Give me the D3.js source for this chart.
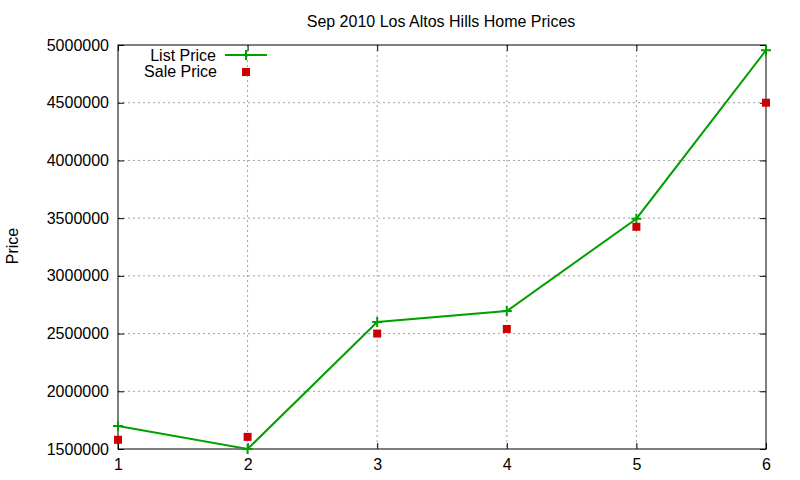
<!DOCTYPE html>
<html>
<head>
<meta charset="utf-8">
<script src="https://cdn.jsdelivr.net/npm/d3@7"></script>
<style>
  body { margin: 0; background: #fff; }
  svg text { font-family: "Liberation Sans", Arial, sans-serif; fill: #000; }
</style>
</head>
<body>
<div id="chart"></div>
<script>
const homes = [1, 2, 3, 4, 5, 6];
const listPrice = [1700000, 1500000, 2600000, 2695000, 3495000, 4955000];
const salePrice = [1580000, 1605000, 2500000, 2540000, 3425000, 4500000];
const yTicks = [1500000, 2000000, 2500000, 3000000, 3500000, 4000000, 4500000, 5000000];

const width = 800, height = 480;
const plotL = 118, plotR = 766, plotT = 45, plotB = 449;

const svg = d3.select("#chart").append("svg")
    .attr("width", width)
    .attr("height", height);

const x = d3.scaleLinear().domain([1, 6]).range([plotL, plotR]);
const y = d3.scaleLinear().domain([1500000, 5000000]).range([plotB, plotT]);

// grid
svg.append("g")
    .selectAll("line")
    .data(yTicks.slice(1, -1))
    .enter().append("line")
    .attr("x1", plotL).attr("x2", plotR)
    .attr("y1", d => y(d)).attr("y2", d => y(d))
    .attr("stroke", "#a0a0a0").attr("stroke-dasharray", "2,3");
svg.append("g")
    .selectAll("line")
    .data(homes.slice(1, -1))
    .enter().append("line")
    .attr("x1", d => x(d)).attr("x2", d => x(d))
    .attr("y1", plotT).attr("y2", plotB)
    .attr("stroke", "#a0a0a0").attr("stroke-dasharray", "2,3");

// axes (ticks inward, mirrored)
const fontSize = "16px";
svg.append("g")
    .attr("transform", `translate(${plotL},0)`)
    .call(d3.axisLeft(y).tickValues(yTicks).tickSize(-6).tickPadding(9).tickFormat(d3.format("d")))
    .call(g => g.select(".domain").remove())
    .call(g => g.selectAll("text").style("font-size", fontSize).style("font-family", "Liberation Sans, Arial, sans-serif"));
svg.append("g")
    .attr("transform", `translate(${plotR},0)`)
    .call(d3.axisRight(y).tickValues(yTicks).tickSize(-6).tickFormat(""))
    .call(g => g.select(".domain").remove());
svg.append("g")
    .attr("transform", `translate(0,${plotB})`)
    .call(d3.axisBottom(x).tickValues(homes).tickSize(-6).tickPadding(10).tickFormat(d3.format("d")))
    .call(g => g.select(".domain").remove())
    .call(g => g.selectAll("text").style("font-size", fontSize).style("font-family", "Liberation Sans, Arial, sans-serif"));
svg.append("g")
    .attr("transform", `translate(0,${plotT})`)
    .call(d3.axisTop(x).tickValues(homes).tickSize(-6).tickFormat(""))
    .call(g => g.select(".domain").remove());

svg.append("rect")
    .attr("x", plotL).attr("y", plotT)
    .attr("width", plotR - plotL).attr("height", plotB - plotT)
    .attr("fill", "none").attr("stroke", "#000").attr("stroke-width", 1);

// list price line
const green = "#00a000", red = "#cc0000";
const line = d3.line().x((d, i) => x(homes[i])).y(d => y(d));
svg.append("path")
    .datum(listPrice)
    .attr("d", line)
    .attr("fill", "none").attr("stroke", green).attr("stroke-width", 2);

function plus(g, cx, cy) {
  g.append("path")
    .attr("d", `M${cx - 5},${cy}H${cx + 5}M${cx},${cy - 5}V${cy + 5}`)
    .attr("stroke", green).attr("stroke-width", 2);
}
const pts = svg.append("g");
listPrice.forEach((v, i) => plus(pts, x(homes[i]), y(v)));

svg.append("g")
    .selectAll("rect")
    .data(salePrice)
    .enter().append("rect")
    .attr("x", (d, i) => x(homes[i]) - 4)
    .attr("y", d => y(d) - 4)
    .attr("width", 8).attr("height", 8)
    .attr("fill", red);

// legend
const leg = svg.append("g");
leg.append("text").attr("x", 216).attr("y", 55).attr("text-anchor", "end")
    .attr("dominant-baseline", "central").style("font-size", fontSize).text("List Price");
leg.append("line").attr("x1", 225).attr("x2", 267).attr("y1", 55).attr("y2", 55)
    .attr("stroke", green).attr("stroke-width", 2);
plus(leg, 246, 55);
leg.append("text").attr("x", 217).attr("y", 71).attr("text-anchor", "end")
    .attr("dominant-baseline", "central").style("font-size", fontSize).text("Sale Price");
leg.append("rect").attr("x", 242).attr("y", 68).attr("width", 8).attr("height", 8).attr("fill", red);

// title and label
svg.append("text")
    .attr("x", 441).attr("y", 21)
    .attr("text-anchor", "middle").attr("dominant-baseline", "central")
    .style("font-size", "16px")
    .text("Sep 2010 Los Altos Hills Home Prices");
svg.append("text")
    .attr("transform", "translate(12,246) rotate(-90)")
    .attr("text-anchor", "middle").attr("dominant-baseline", "central")
    .style("font-size", fontSize)
    .text("Price");
</script>
</body>
</html>
